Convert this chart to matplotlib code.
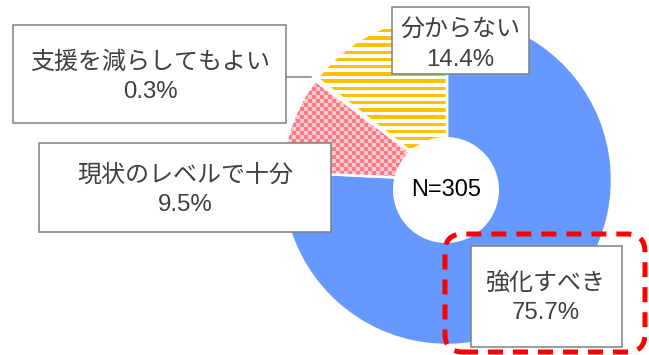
import numpy as np
import matplotlib
matplotlib.use("Agg")
import matplotlib.pyplot as plt
from matplotlib.patches import Rectangle, Circle, FancyBboxPatch

plt.rcParams['font.family'] = ['Liberation Sans', 'Noto Sans CJK JP', 'DejaVu Sans']

# ---- data ----
categories = ['強化すべき', '現状のレベルで十分', '支援を減らしてもよい', '分からない']
values = [75.7, 9.5, 0.3, 14.4]
total_n = 305

# ---- layout (pixel units, y measured from top) ----
W, H = 649, 355
pie_center = (447, 180)
pie_radius = 165
explode = [0.02, 0.075, 0.075, 0.058]
hole_center = (446, 190)
hole_radius = 53
# label boxes: (x0, y0, x1, y1), text centre x, line1 y, line2 y
boxes = [
    ((471, 246, 622, 347), 546, 283, 313),
    ((39, 143, 331, 232), 185, 175, 205),
    ((13, 25, 286, 123), 150, 63, 92),
    ((392, 7, 529, 74), 460, 30, 60),
]
leader = ((286, 77), (311, 77))
highlight = (445, 234, 645, 352)

blue = '#6699FF'
txt_col = '#404040'
box_col = '#7F7F7F'
label_fs = 17.3

def Y(y):
    return H - y

fig = plt.figure(figsize=(W / 100, H / 100), dpi=100)
ax = fig.add_axes([0, 0, 1, 1])
ax.set_xlim(0, W)
ax.set_ylim(0, H)
ax.axis('off')

wedges, _ = ax.pie(values, colors=[blue, '#FFC9D4', 'white', 'white'],
                   startangle=90, counterclock=False,
                   center=(pie_center[0], Y(pie_center[1])), radius=pie_radius,
                   explode=explode,
                   wedgeprops=dict(edgecolor='white', linewidth=1.8))
ax.set_xlim(0, W)
ax.set_ylim(0, H)
ax.set_aspect('equal')

# pattern fills
yy, xx = np.mgrid[0:H, 0:W]
# checker for red wedge
chk = ((xx // 4) + (yy // 4)) % 2 == 0
img_r = np.zeros((H, W, 4))
img_r[...] = matplotlib.colors.to_rgba('#FFC9D4')
img_r[chk] = matplotlib.colors.to_rgba('#FF7B82')
im1 = ax.imshow(img_r, extent=(0, W, H, 0), origin='upper', interpolation='nearest', zorder=1.5)
im1.set_clip_path(wedges[1])
# stripes for yellow wedge
stp = ((yy - 91.7) % 7.2) < 3.5
img_y = np.ones((H, W, 4))
img_y[stp] = matplotlib.colors.to_rgba('#FFC000')
im2 = ax.imshow(img_y, extent=(0, W, H, 0), origin='upper', interpolation='nearest', zorder=1.5)
im2.set_clip_path(wedges[3])
# redraw white separators on top of the pattern fills
for w in (wedges[1], wedges[3]):
    w.set_facecolor('none')
    w.set_zorder(1.6)
ax.set_xlim(0, W)
ax.set_ylim(0, H)

# hole
ax.add_patch(Circle((hole_center[0], Y(hole_center[1])), hole_radius,
                    facecolor='white', edgecolor='none', zorder=3))
ax.text(hole_center[0], Y(hole_center[1]), f'N={total_n}', ha='center', va='center',
        fontsize=17, color='black', zorder=4)

# highlight dashed rounded box
x0, y0, x1, y1 = highlight
ax.add_patch(FancyBboxPatch((x0, Y(y1)), x1 - x0, y1 - y0,
                            boxstyle='round,pad=0,rounding_size=18',
                            facecolor='none', edgecolor='#FF0000', linewidth=3.6,
                            linestyle=(0, (3, 2)), zorder=5))

# leader line
ax.plot([leader[0][0], leader[1][0]], [Y(leader[0][1]), Y(leader[1][1])],
        color=box_col, linewidth=1.1, zorder=5)

# labels
for (bx, cx, ly1, ly2), cat, v in zip(boxes, categories, values):
    bx0, by0, bx1, by1 = bx
    ax.add_patch(Rectangle((bx0, Y(by1)), bx1 - bx0, by1 - by0,
                           facecolor='white', edgecolor=box_col, linewidth=1.1, zorder=6))
    ax.text(cx, Y(ly1), cat, ha='center', va='center', fontsize=label_fs, color=txt_col, zorder=7)
    ax.text(cx, Y(ly2), f'{v:.1f}%', ha='center', va='center', fontsize=label_fs, color=txt_col, zorder=7)

fig.savefig('out.png', dpi=100)
